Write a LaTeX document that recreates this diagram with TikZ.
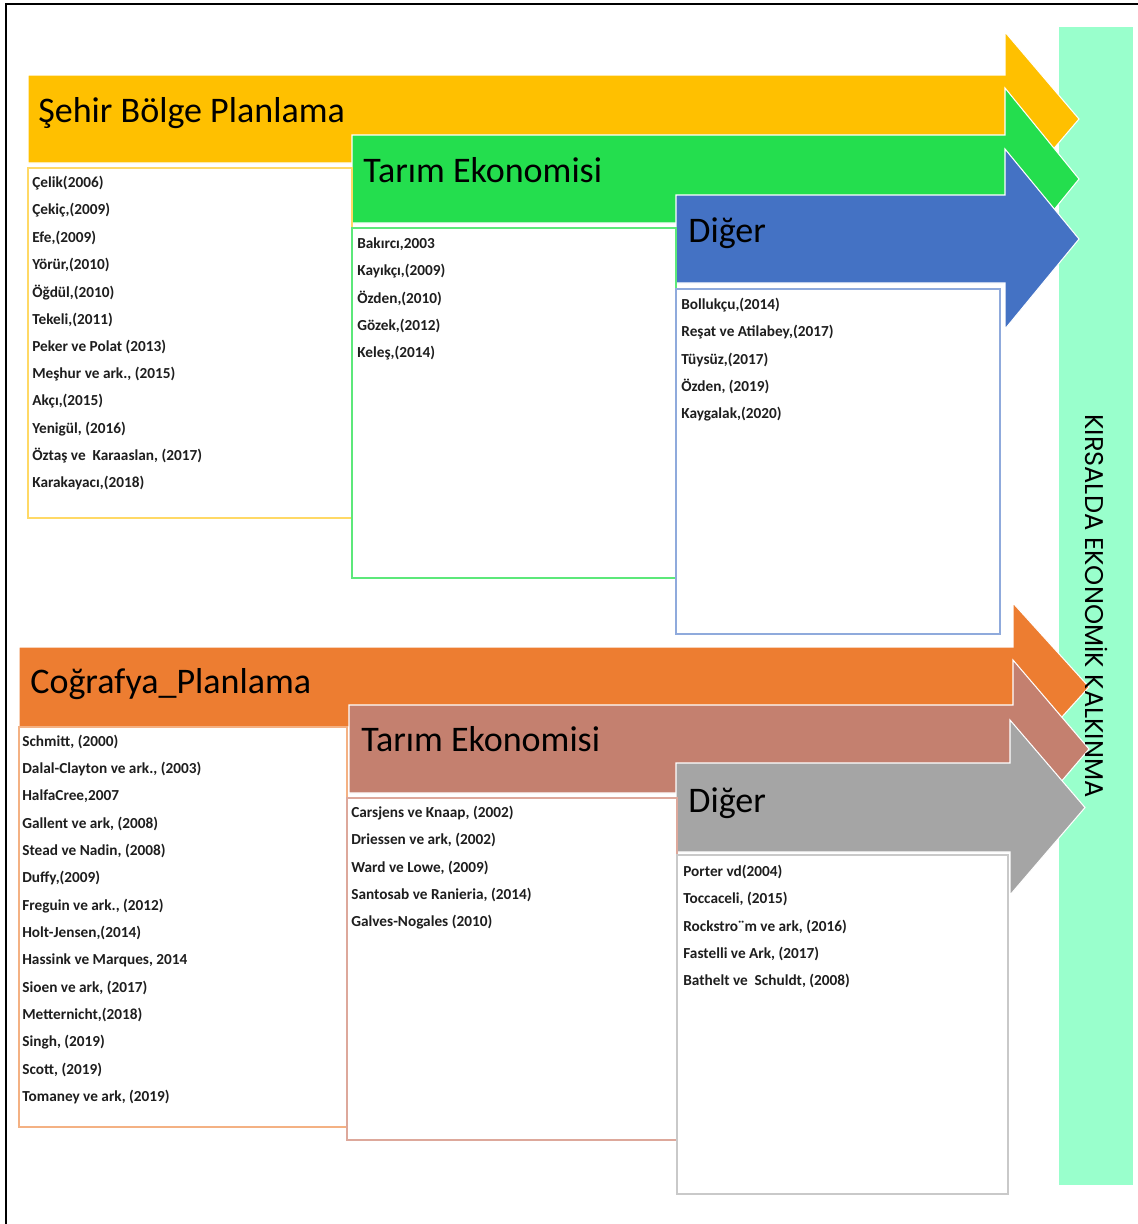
\documentclass[tikz,border=0pt]{standalone}
\usepackage{fontspec}
\setmainfont{Carlito}
\newfontfamily\barfont{Poppins}

\definecolor{sbpyellow}{HTML}{FFC000}
\definecolor{sbpline}{HTML}{FFD966}
\definecolor{tarimgreen}{HTML}{24DE4E}
\definecolor{tarimline}{HTML}{5CE87A}
\definecolor{digerblue}{HTML}{4472C4}
\definecolor{digerline}{HTML}{8FAADC}
\definecolor{cogorange}{HTML}{ED7D31}
\definecolor{cogline}{HTML}{F4B183}
\definecolor{tarimbrown}{HTML}{C4806F}
\definecolor{brownline}{HTML}{DDA89B}
\definecolor{digergrey}{HTML}{A5A5A5}
\definecolor{greyline}{HTML}{C9C9C9}
\definecolor{barmint}{HTML}{99FFCC}
\definecolor{itemtext}{HTML}{1E1E1E}

% color, left x, body top, body bottom, head x, head top, tip x
\newcommand{\fatarrow}[7]{%
  \fill[#1, draw=white, line width=0.6pt] (#2,#3) -- (#5,#3) -- (#5,#6)
    -- (#7,{(#3+#4)/2}) -- (#5,{#3+#4-#6}) -- (#5,#4) -- (#2,#4) -- cycle;
}
% name, x, first y, entries
\newcommand{\reflist}[4]{%
  \foreach \entry [count=\i] in {#4}
    \node[item] (#1\i) at (#2,{#3+(\i-1)*27.3}) {\entry};
}

\begin{document}
\begin{tikzpicture}[x=0.02cm, y=-0.02cm,
    head/.style={anchor=base west, inner sep=0pt, font=\fontsize{20.5}{24}\selectfont},
    item/.style={anchor=west, inner sep=0pt, text=itemtext,
      font=\fontsize{8.7}{10}\selectfont\bfseries},
    listbox/.style={fill=white, line width=0.8pt}]
    \useasboundingbox (0,0) rectangle (1138,1224);
    \draw[line width=1.1pt] (6,1224) -- (6,4) -- (1138,4);

    \fill[barmint] (1059,27) rectangle (1133,1185);

    % ust grup
    \fatarrow{sbpyellow}{28}{75}{163}{1005}{32}{1079}
    \fatarrow{tarimgreen}{352}{135}{223}{1005}{88}{1079}
    \fatarrow{digerblue}{676}{195}{283}{1005}{149}{1079}
    \node[head] (sbp) at (38,122) {Şehir Bölge Planlama};
    \node[head] (tarim1) at (363,182) {Tarım Ekonomisi};
    \node[head] (diger1) at (688,242) {Diğer};

    \draw[listbox, draw=sbpline] (28,168) rectangle (352,518);
    \draw[listbox, draw=tarimline] (352,228) rectangle (676,578);
    \draw[listbox, draw=digerline] (676,289) rectangle (1000,634);

    \reflist{sbp}{32}{183}{Çelik(2006), {Çekiç,(2009)}, {Efe,(2009)}, {Yörür,(2010)},
      {Öğdül,(2010)}, {Tekeli,(2011)}, Peker ve Polat (2013), {Meşhur ve ark., (2015)},
      {Akçı,(2015)}, {Yenigül, (2016)}, {Öztaş ve\ \ Karaaslan, (2017)}, {Karakayacı,(2018)}}
    \reflist{tar}{357}{244}{{Bakırcı,2003}, {Kayıkçı,(2009)}, {Özden,(2010)},
      {Gözek,(2012)}, {Keleş,(2014)}}
    \reflist{dig}{681}{305}{{Bollukçu,(2014)}, {Reşat ve Atilabey,(2017)},
      {Tüysüz,(2017)}, {Özden, (2019)}, {Kaygalak,(2020)}}

    % alt grup
    \fatarrow{cogorange}{19}{647}{727}{1013}{603}{1089}
    \fatarrow{tarimbrown}{349}{705}{793}{1013}{660}{1089}
    \fatarrow{digergrey}{676}{763}{852}{1010}{720}{1085}
    \node[head] (cog) at (30,693) {Coğrafya\_Planlama};
    \node[head] (tarim2) at (361,751) {Tarım Ekonomisi};
    \node[head] (diger2) at (688,812) {Diğer};

    \draw[listbox, draw=cogline] (19,727) rectangle (347,1127);
    \draw[listbox, draw=brownline] (347,798) rectangle (677,1140);
    \draw[listbox, draw=greyline] (677,855) rectangle (1008,1194);

    \reflist{cog}{22}{742}{{Schmitt, (2000)}, {Dalal-Clayton ve ark., (2003)},
      {HalfaCree,2007}, {Gallent ve ark, (2008)}, {Stead ve Nadin, (2008)},
      {Duffy,(2009)}, {Freguin ve ark., (2012)}, {Holt-Jensen,(2014)},
      {Hassink ve Marques, 2014}, {Sioen ve ark, (2017)}, {Metternicht,(2018)},
      {Singh, (2019)}, {Scott, (2019)}, {Tomaney ve ark, (2019)}}
    \reflist{tarb}{351}{813}{{Carsjens ve Knaap, (2002)}, {Driessen ve ark, (2002)},
      {Ward ve Lowe, (2009)}, {Santosab ve Ranieria, (2014)}, Galves-Nogales (2010)}
    \reflist{digb}{683}{872}{Porter vd(2004), {Toccaceli, (2015)},
      {Rockstro¨m ve ark, (2016)}, {Fastelli ve Ark, (2017)}, {Bathelt ve\ \ Schuldt, (2008)}}

    \node[rotate=-90, inner sep=0pt, font=\barfont\fontsize{14.6}{16}\selectfont]
      (kalkinma) at (1097,606) {KIRSALDA EKONOMİK KALKINMA};
\end{tikzpicture}
\end{document}
